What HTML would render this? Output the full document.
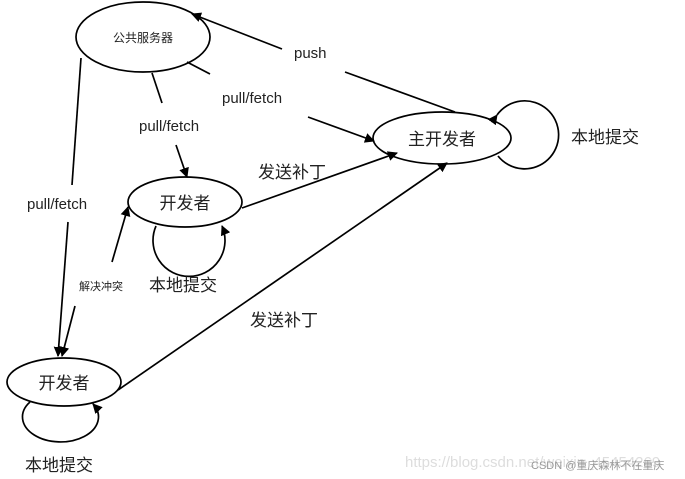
<!DOCTYPE html>
<html><head><meta charset="utf-8"><style>
html,body{margin:0;padding:0;background:#fff;}
svg{display:block;}
text{font-family:"Liberation Sans","Noto Sans CJK SC",sans-serif;fill:#222;}
</style></head><body>
<svg width="685" height="479" viewBox="0 0 685 479" xmlns="http://www.w3.org/2000/svg">
<defs>
<marker id="a" markerWidth="10" markerHeight="10" refX="9" refY="5" orient="auto" markerUnits="userSpaceOnUse">
<path d="M0,0 L10,5 L0,10 z" fill="#000"/></marker>
</defs>
<g fill="none" stroke="#000" stroke-width="1.7">
<ellipse cx="143" cy="37" rx="67" ry="35"/>
<ellipse cx="442" cy="138" rx="69" ry="26"/>
<ellipse cx="185" cy="202" rx="57" ry="25"/>
<ellipse cx="64" cy="382" rx="57" ry="24"/>
<!-- loops -->
<path d="M497,115 A34,34 0 1 1 498,156" marker-start="url(#a)"/>
<path d="M156,226 A36,36 0 1 0 222,226" marker-end="url(#a)"/>
<path d="M30,402 A38,25 0 1 0 93,404" marker-end="url(#a)"/>
<!-- push -->
<path d="M455,112 L345,72"/>
<path d="M282,49 L192,14" marker-end="url(#a)"/>
<!-- pull/fetch to main -->
<path d="M187,62 L210,74"/>
<path d="M308,117 L374,141" marker-end="url(#a)"/>
<!-- pull/fetch to mid -->
<path d="M152,73 L162,103"/>
<path d="M176,145 L187,177" marker-end="url(#a)"/>
<!-- pull/fetch to bottom -->
<path d="M81,58 L72,185"/>
<path d="M68,222 L58,356" marker-end="url(#a)"/>
<!-- resolve conflict -->
<path d="M112,262 L128,207" marker-end="url(#a)"/>
<path d="M75,306 L62,356" marker-end="url(#a)"/>
<!-- send patch -->
<path d="M242,208 L397,153" marker-end="url(#a)"/>
<path d="M118,390 L447,163" marker-end="url(#a)"/>
</g>
<text x="143" y="42" font-size="12" text-anchor="middle">公共服务器</text>
<text x="442" y="145" font-size="17" text-anchor="middle">主开发者</text>
<text x="185" y="209" font-size="17" text-anchor="middle">开发者</text>
<text x="64" y="389" font-size="17" text-anchor="middle">开发者</text>
<text x="571" y="143" font-size="17">本地提交</text>
<text x="149" y="291" font-size="17">本地提交</text>
<text x="25" y="471" font-size="17">本地提交</text>
<text x="294" y="58" font-size="15">push</text>
<text x="222" y="103" font-size="15">pull/fetch</text>
<text x="139" y="131" font-size="15">pull/fetch</text>
<text x="27" y="209" font-size="15">pull/fetch</text>
<text x="79" y="290" font-size="11">解决冲突</text>
<text x="258" y="178" font-size="17">发送补丁</text>
<text x="250" y="326" font-size="17">发送补丁</text>
<text x="405" y="467" font-size="15" style="fill:#ddd">https://blog.csdn.net/weixin_45454269</text>
<text x="531" y="469" font-size="11" style="fill:#999">CSDN @重庆森林不在重庆</text>
</svg>
</body></html>
